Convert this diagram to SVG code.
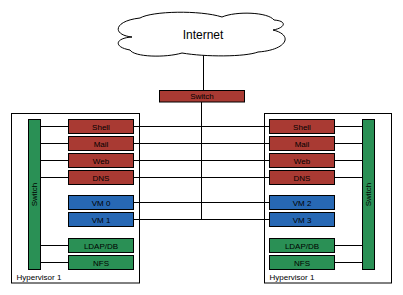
<svg xmlns="http://www.w3.org/2000/svg" width="403" height="295" viewBox="0 0 403 295">
<defs>
<style>
.hv{fill:#fff;stroke:#000;stroke-width:1}
.red{fill:#a93a33;stroke:#000;stroke-width:1}
.blue{fill:#2768b4;stroke:#000;stroke-width:1}
.green{fill:#2a9055;stroke:#000;stroke-width:1}
.t{font-family:"Liberation Sans",Arial,sans-serif;font-size:8px;fill:#000;text-anchor:middle}
.lbl{font-family:"Liberation Sans",Arial,sans-serif;font-size:8px;fill:#000}
.ln{stroke:#000;stroke-width:1;fill:none}
</style>
</defs>
<rect width="403" height="295" fill="#fff"/>
<g id="hypervisor-left"><rect class="hv" x="11.5" y="113.5" width="128" height="169.5"/><text class="lbl" x="16.5" y="279.5">Hypervisor 1</text></g>
<g id="hypervisor-right"><rect class="hv" x="264.5" y="113.5" width="127" height="169.5"/><text class="lbl" x="269.5" y="279.5">Hypervisor 1</text></g>
<g id="connectors">
<path class="ln" d="M203.5 55V90.5M201.5 102V219.5"/>
<path class="ln" d="M40.5 126.5H68.5M40.5 143.5H68.5M40.5 160.5H68.5M40.5 177.5H68.5M40.5 245.5H68.5M40.5 262.5H68.5"/>
<path class="ln" d="M334.5 126.5H362.5M334.5 143.5H362.5M334.5 160.5H362.5M334.5 177.5H362.5M334.5 245.5H362.5M334.5 262.5H362.5"/>
<path class="ln" d="M133.5 126.5H269.5M133.5 143.5H269.5M133.5 160.5H269.5M133.5 177.5H269.5M133.5 202.5H269.5M133.5 219.5H269.5"/>
</g>
<g id="internet"><path d="M132 37C112 35 113 21 140 18C152 11 200 10 222 17C236 11 268 12 274 20C288 21 285 28 273 30C294 35 287 50 258 52C245 57 205 57 182 53C165 58 134 57 130 50C113 47 115 38 132 37Z" fill="#fff" stroke="#000" stroke-width="1"/><text x="203" y="38.5" font-family="'Liberation Sans',Arial,sans-serif" font-size="12" fill="#000" text-anchor="middle">Internet</text></g>
<g id="switch-top"><rect class="red" x="159.5" y="90.5" width="85" height="11.5"/><text class="t" x="202" y="99">Switch</text></g>
<g id="switch-left"><rect class="green" x="28.5" y="119.5" width="12" height="150"/><text class="t" transform="translate(37.4 194.5) rotate(-90)">Switch</text></g>
<g id="switch-right"><rect class="green" x="362.5" y="119.5" width="12" height="150"/><text class="t" transform="translate(371.4 194.5) rotate(-90)">Switch</text></g>
<g id="shell-l"><rect class="red" x="68.5" y="119.5" width="65" height="14"/><text class="t" x="101" y="129.5">Shell</text></g>
<g id="mail-l"><rect class="red" x="68.5" y="136.5" width="65" height="14"/><text class="t" x="101" y="146.5">Mail</text></g>
<g id="web-l"><rect class="red" x="68.5" y="153.5" width="65" height="14"/><text class="t" x="101" y="163.5">Web</text></g>
<g id="dns-l"><rect class="red" x="68.5" y="170.5" width="65" height="14"/><text class="t" x="101" y="180.5">DNS</text></g>
<g id="vm0"><rect class="blue" x="68.5" y="195.5" width="65" height="14"/><text class="t" x="101" y="205.5">VM 0</text></g>
<g id="vm1"><rect class="blue" x="68.5" y="212.5" width="65" height="14"/><text class="t" x="101" y="222.5">VM 1</text></g>
<g id="ldap-l"><rect class="green" x="68.5" y="238.5" width="65" height="14"/><text class="t" x="101" y="248.5">LDAP/DB</text></g>
<g id="nfs-l"><rect class="green" x="68.5" y="255.5" width="65" height="14"/><text class="t" x="101" y="265.5">NFS</text></g>
<g id="shell-r"><rect class="red" x="269.5" y="119.5" width="65" height="14"/><text class="t" x="302" y="129.5">Shell</text></g>
<g id="mail-r"><rect class="red" x="269.5" y="136.5" width="65" height="14"/><text class="t" x="302" y="146.5">Mail</text></g>
<g id="web-r"><rect class="red" x="269.5" y="153.5" width="65" height="14"/><text class="t" x="302" y="163.5">Web</text></g>
<g id="dns-r"><rect class="red" x="269.5" y="170.5" width="65" height="14"/><text class="t" x="302" y="180.5">DNS</text></g>
<g id="vm2"><rect class="blue" x="269.5" y="195.5" width="65" height="14"/><text class="t" x="302" y="205.5">VM 2</text></g>
<g id="vm3"><rect class="blue" x="269.5" y="212.5" width="65" height="14"/><text class="t" x="302" y="222.5">VM 3</text></g>
<g id="ldap-r"><rect class="green" x="269.5" y="238.5" width="65" height="14"/><text class="t" x="302" y="248.5">LDAP/DB</text></g>
<g id="nfs-r"><rect class="green" x="269.5" y="255.5" width="65" height="14"/><text class="t" x="302" y="265.5">NFS</text></g>
</svg>
